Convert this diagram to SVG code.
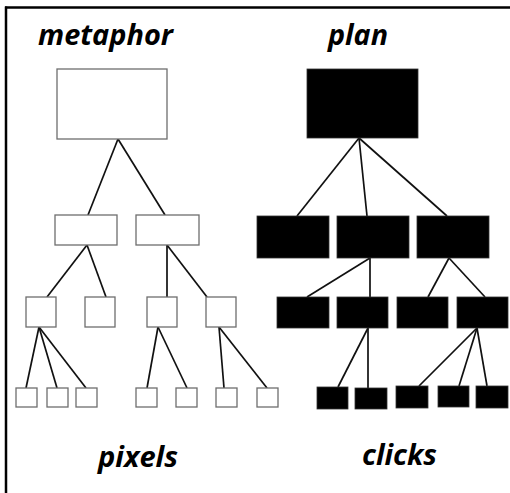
<svg xmlns="http://www.w3.org/2000/svg" width="510" height="493" viewBox="0 0 510 493">
<style>
.w{fill:#fff;stroke:#6e6e6e;stroke-width:1.3}
.b{fill:#000;stroke:#333;stroke-width:0.8}
.c line{stroke:#111;stroke-width:1.7}
.t{font-family:"Open Sans","Liberation Sans",sans-serif;font-weight:bold;font-style:italic;font-size:28px;fill:#000}
</style>
<rect width="510" height="493" fill="#fff"/>
<g id="frame" stroke="#000" stroke-width="2.5"><line x1="6" y1="6.5" x2="6" y2="493"/><line x1="5" y1="7.5" x2="510" y2="7.5"/></g>
<g id="labels">
<text class="t" x="38" y="45" textLength="135" lengthAdjust="spacingAndGlyphs">metaphor</text>
<text class="t" x="328" y="45" textLength="60" lengthAdjust="spacingAndGlyphs">plan</text>
<text class="t" x="98" y="467" textLength="80" lengthAdjust="spacingAndGlyphs">pixels</text>
<text class="t" x="362" y="465" textLength="75" lengthAdjust="spacingAndGlyphs">clicks</text>
</g>
<g class="c" id="connectors">
<line x1="118" y1="139" x2="88" y2="215"/><line x1="118" y1="139" x2="165" y2="215"/>
<line x1="87" y1="245" x2="47" y2="297"/><line x1="87" y1="245" x2="106" y2="297"/>
<line x1="167" y1="245" x2="167" y2="297"/><line x1="167" y1="245" x2="207" y2="297"/>
<line x1="39" y1="327" x2="26" y2="388"/><line x1="39" y1="327" x2="57" y2="388"/><line x1="39" y1="327" x2="86" y2="388"/>
<line x1="158" y1="327" x2="147" y2="388"/><line x1="158" y1="327" x2="187" y2="388"/>
<line x1="219" y1="327" x2="224" y2="388"/><line x1="219" y1="327" x2="267" y2="388"/>
<line x1="359" y1="138" x2="297" y2="216"/><line x1="359" y1="138" x2="367" y2="216"/><line x1="359" y1="138" x2="447" y2="216"/>
<line x1="370" y1="258" x2="307" y2="297"/><line x1="370" y1="258" x2="370" y2="297"/>
<line x1="449" y1="258" x2="428" y2="297"/><line x1="449" y1="258" x2="485" y2="297"/>
<line x1="368" y1="328" x2="338" y2="387"/><line x1="368" y1="328" x2="368" y2="388"/>
<line x1="477" y1="328" x2="419" y2="386"/><line x1="477" y1="328" x2="459" y2="386"/><line x1="477" y1="328" x2="487" y2="386"/>
</g>
<g id="m-root"><rect class="w" x="57" y="69" width="110" height="70"/></g>
<g id="m-a"><rect class="w" x="55" y="215" width="62" height="30"/></g>
<g id="m-b"><rect class="w" x="136" y="215" width="63" height="30"/></g>
<g id="m-a1"><rect class="w" x="26" y="297" width="30" height="30"/></g>
<g id="m-a2"><rect class="w" x="85" y="297" width="30" height="30"/></g>
<g id="m-b1"><rect class="w" x="147" y="297" width="30" height="30"/></g>
<g id="m-b2"><rect class="w" x="206" y="297" width="30" height="30"/></g>
<g id="m-p1"><rect class="w" x="16" y="388" width="21" height="19"/></g>
<g id="m-p2"><rect class="w" x="47" y="388" width="21" height="19"/></g>
<g id="m-p3"><rect class="w" x="76" y="388" width="21" height="19"/></g>
<g id="m-p4"><rect class="w" x="136" y="388" width="21" height="19"/></g>
<g id="m-p5"><rect class="w" x="176" y="388" width="21" height="19"/></g>
<g id="m-p6"><rect class="w" x="216" y="388" width="21" height="19"/></g>
<g id="m-p7"><rect class="w" x="257" y="388" width="21" height="19"/></g>
<g id="p-root"><rect class="b" x="307" y="69" width="111" height="69"/></g>
<g id="p-a"><rect class="b" x="257" y="216" width="72" height="42"/></g>
<g id="p-b"><rect class="b" x="337" y="216" width="72" height="42"/></g>
<g id="p-c"><rect class="b" x="417" y="216" width="72" height="42"/></g>
<g id="p-b1"><rect class="b" x="277" y="297" width="52" height="31"/></g>
<g id="p-b2"><rect class="b" x="337" y="297" width="51" height="31"/></g>
<g id="p-c1"><rect class="b" x="397" y="297" width="51" height="31"/></g>
<g id="p-c2"><rect class="b" x="457" y="297" width="51" height="31"/></g>
<g id="p-k1"><rect class="b" x="317" y="387" width="31" height="22"/></g>
<g id="p-k2"><rect class="b" x="355" y="388" width="32" height="21"/></g>
<g id="p-k3"><rect class="b" x="396" y="386" width="32" height="22"/></g>
<g id="p-k4"><rect class="b" x="438" y="386" width="31" height="21"/></g>
<g id="p-k5"><rect class="b" x="476" y="386" width="32" height="22"/></g>
</svg>
